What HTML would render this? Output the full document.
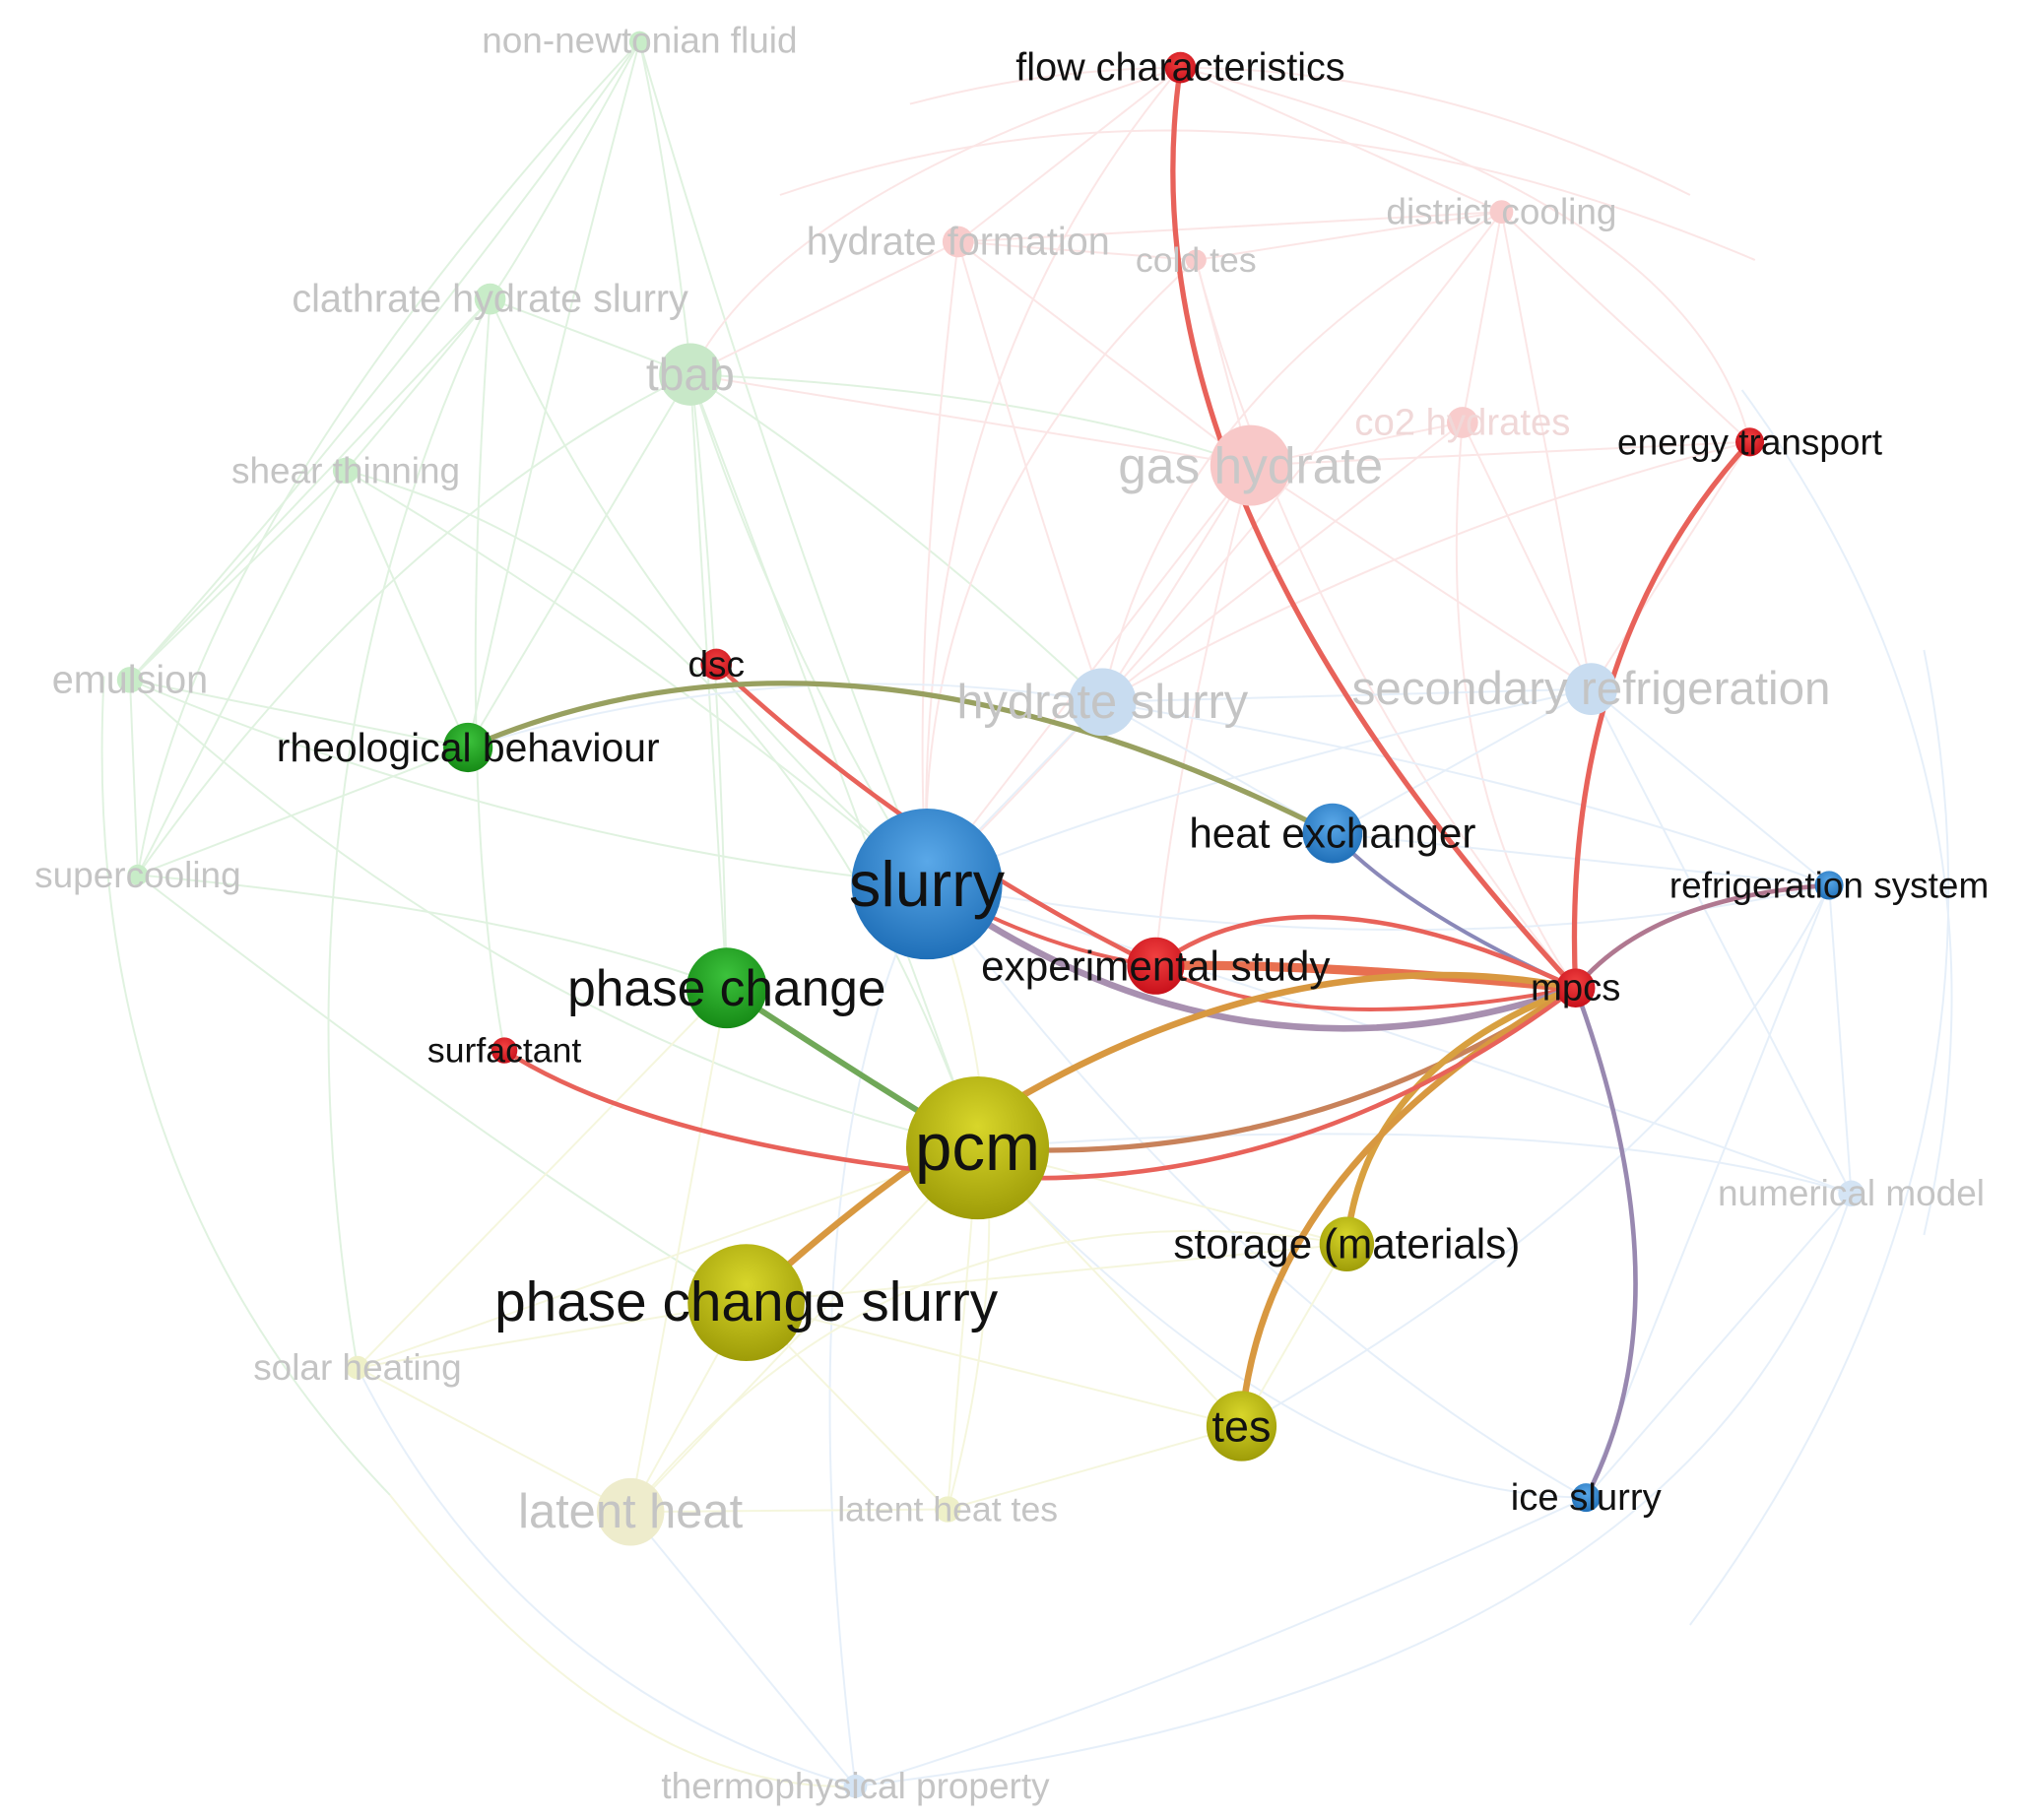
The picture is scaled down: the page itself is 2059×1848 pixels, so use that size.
<!DOCTYPE html>
<html><head><meta charset="utf-8"><style>
html,body{margin:0;padding:0;background:#fff;}
svg{display:block;}
text{font-family:"Liberation Sans","DejaVu Sans",sans-serif;text-anchor:middle;dominant-baseline:central;}
</style></head><body>
<svg width="2059" height="1848" viewBox="0 0 1560 1400" preserveAspectRatio="none" xmlns="http://www.w3.org/2000/svg">
<defs>
<radialGradient id="gb" cx="50%" cy="35%" r="65%"><stop offset="0" stop-color="#5aa8e8"/><stop offset="1" stop-color="#1f6fb8"/></radialGradient>
<radialGradient id="gy" cx="50%" cy="35%" r="65%"><stop offset="0" stop-color="#d8d62a"/><stop offset="1" stop-color="#9e9c08"/></radialGradient>
<radialGradient id="gg" cx="50%" cy="35%" r="65%"><stop offset="0" stop-color="#3cc23c"/><stop offset="1" stop-color="#168a16"/></radialGradient>
<radialGradient id="gr" cx="50%" cy="35%" r="65%"><stop offset="0" stop-color="#f04040"/><stop offset="1" stop-color="#c8101a"/></radialGradient>
</defs>
<rect width="1560" height="1400" fill="#fff"/>
<g fill="none" stroke-width="1.5" opacity="0.35">
<g stroke="#a8dca8">
<path d="M492 32 Q400 200 377 230"/><path d="M492 32 Q300 300 100 523"/><path d="M492 32 Q420 300 360 575"/><path d="M492 32 Q600 400 713 680"/><path d="M492 32 Q550 300 559 760"/><path d="M492 32 Q150 400 106 673"/>
<path d="M377 230 L266 362"/><path d="M377 230 L100 523"/><path d="M377 230 Q500 500 713 680"/><path d="M377 230 Q350 600 388 808"/><path d="M377 230 L531 288"/><path d="M377 230 Q200 600 275 1052"/>
<path d="M266 362 L100 523"/><path d="M266 362 L360 575"/><path d="M266 362 Q500 500 713 680"/><path d="M266 362 L106 673"/><path d="M266 362 Q600 450 752 883"/>
<path d="M100 523 L360 575"/><path d="M100 523 Q400 650 713 680"/><path d="M100 523 L106 673"/><path d="M100 523 Q400 800 752 883"/>
<path d="M106 673 L360 575"/><path d="M106 673 Q400 700 559 760"/><path d="M106 673 Q400 900 574 1002"/><path d="M106 673 Q300 400 531 288"/>
<path d="M531 288 Q600 500 713 680"/><path d="M531 288 L559 760"/><path d="M531 288 Q700 400 848 540"/><path d="M531 288 Q800 300 962 358"/><path d="M531 288 L360 575"/><path d="M531 288 Q650 600 752 883"/>
<path d="M80 520 Q60 900 300 1150"/>
</g>
<g stroke="#f4b8b8">
<path d="M737 186 L962 358"/><path d="M737 186 Q800 400 848 540"/><path d="M737 186 L531 288"/><path d="M737 186 Q700 500 713 680"/><path d="M737 186 L1155 163"/><path d="M737 186 L920 200"/>
<path d="M920 200 L962 358"/><path d="M920 200 L1155 163"/><path d="M920 200 Q1000 500 1212 760"/><path d="M920 200 Q700 400 713 680"/>
<path d="M1155 163 L1125 325"/><path d="M1155 163 Q1200 400 1224 530"/><path d="M1155 163 L1346 340"/><path d="M1155 163 Q900 300 848 540"/><path d="M1155 163 Q900 500 713 680"/>
<path d="M1125 325 L962 358"/><path d="M1125 325 L848 540"/><path d="M1125 325 L1224 530"/><path d="M1125 325 Q1100 600 1212 760"/>
<path d="M962 358 L848 540"/><path d="M962 358 L713 680"/><path d="M962 358 L1224 530"/><path d="M962 358 L531 288"/><path d="M962 358 L1346 340"/><path d="M962 358 Q900 600 889 743"/>
<path d="M908 52 Q700 300 713 680"/><path d="M908 52 L737 186"/><path d="M908 52 L1155 163"/><path d="M908 52 Q1300 150 1346 340"/><path d="M908 52 Q600 150 531 288"/>
<path d="M1346 340 L1224 530"/><path d="M1346 340 Q1100 400 848 540"/>
<path d="M700 80 Q1000 0 1300 150"/><path d="M600 150 Q950 30 1350 200"/>
</g>
<g stroke="#b8d4f0">
<path d="M848 540 L1224 530"/><path d="M848 540 L713 680"/><path d="M848 540 L1025 641"/><path d="M848 540 Q1200 600 1407 681"/><path d="M848 540 Q600 500 360 575"/>
<path d="M1224 530 L1407 681"/><path d="M1224 530 L1025 641"/><path d="M1224 530 Q900 600 713 680"/><path d="M1224 530 L1424 918"/>
<path d="M1407 681 L1424 918"/><path d="M1407 681 L1220 1152"/><path d="M1407 681 Q1300 900 955 1097"/><path d="M1407 681 L1025 641"/><path d="M1407 681 Q1100 750 713 680"/>
<path d="M1424 918 L1220 1152"/><path d="M1424 918 Q1100 800 713 680"/><path d="M1424 918 Q1200 850 752 883"/>
<path d="M658 1374 L485 1163"/><path d="M658 1374 Q600 900 713 680"/><path d="M658 1374 Q900 1300 1220 1152"/><path d="M658 1374 Q400 1300 275 1052"/><path d="M658 1374 Q1300 1300 1424 918"/>
<path d="M1220 1152 Q950 1000 713 680"/><path d="M1220 1152 Q1000 1150 752 883"/>
<path d="M1480 500 Q1560 900 1300 1250"/><path d="M1340 300 Q1560 600 1480 950"/>
</g>
<g stroke="#e4e8a0">
<path d="M485 1163 L574 1002"/><path d="M485 1163 L752 883"/><path d="M485 1163 L729 1161"/><path d="M485 1163 L275 1052"/><path d="M485 1163 L559 760"/><path d="M485 1163 Q700 900 1036 957"/>
<path d="M729 1161 L752 883"/><path d="M729 1161 L574 1002"/><path d="M729 1161 L955 1097"/><path d="M729 1161 Q800 900 713 680"/>
<path d="M275 1052 L574 1002"/><path d="M275 1052 L752 883"/><path d="M275 1052 L559 760"/>
<path d="M955 1097 L752 883"/><path d="M955 1097 L1036 957"/><path d="M955 1097 L574 1002"/><path d="M1036 957 L752 883"/><path d="M1036 957 L574 1002"/>
<path d="M300 1150 Q480 1380 658 1374"/>
</g>
</g>
<g fill="none" stroke-linecap="round">
<path d="M1212 760 Q860 380 908 52" stroke="#e8625a" stroke-width="4"/>
<path d="M1212 760 Q1200 500 1346 340" stroke="#e8625a" stroke-width="4"/>
<path d="M1212 760 Q1270 690 1407 681" stroke="#b07890" stroke-width="3.5"/>
<path d="M1212 760 Q1300 1000 1220 1152" stroke="#9888b0" stroke-width="3.5"/>
<path d="M1212 760 Q1080 700 1025 641" stroke="#8a88b8" stroke-width="3"/>
<path d="M1212 760 Q1000 660 889 743" stroke="#e8625a" stroke-width="3.5"/>
<path d="M1212 760 Q1000 740 889 743" stroke="#e87050" stroke-width="7"/>
<path d="M1212 760 Q1000 800 889 743" stroke="#e8625a" stroke-width="3"/>
<path d="M1212 760 Q950 850 713 680" stroke="#a890b0" stroke-width="5"/>
<path d="M1212 760 Q1000 900 752 883" stroke="#c8825a" stroke-width="4"/>
<path d="M1212 760 Q900 700 574 1002" stroke="#d89840" stroke-width="5"/>
<path d="M1212 760 Q1050 820 1036 957" stroke="#d8a040" stroke-width="5"/>
<path d="M1212 760 Q970 900 955 1097" stroke="#d89840" stroke-width="5"/>
<path d="M1212 760 Q1000 920 752 905 Q500 880 388 808" stroke="#e8625a" stroke-width="3.5"/>
<path d="M551 511 Q700 650 889 743" stroke="#e8625a" stroke-width="3.5"/>
<path d="M360 575 Q650 450 1025 641" stroke="#98a060" stroke-width="4"/>
<path d="M559 760 Q650 820 752 883" stroke="#70a858" stroke-width="4.5"/>
<path d="M713 680 Q800 730 889 743" stroke="#e8625a" stroke-width="3"/>
</g>
<g>
<circle cx="492" cy="32" r="8" fill="#c8ecc8"/>
<circle cx="377" cy="230" r="12" fill="#c8ecc8"/>
<circle cx="531" cy="288" r="24" fill="#c8e8c8"/>
<circle cx="266" cy="362" r="10" fill="#c8ecc8"/>
<circle cx="100" cy="523" r="10" fill="#c8ecc8"/>
<circle cx="106" cy="673" r="8" fill="#c8ecc8"/>
<circle cx="737" cy="186" r="12" fill="#f8cccc"/>
<circle cx="920" cy="200" r="8" fill="#f8cccc"/>
<circle cx="1155" cy="163" r="9" fill="#f8cccc"/>
<circle cx="1125" cy="325" r="12" fill="#f8cccc"/>
<circle cx="962" cy="358" r="31" fill="#f8c8c8"/>
<circle cx="848" cy="540" r="26" fill="#c8dcf0"/>
<circle cx="1224" cy="530" r="20" fill="#c8dcf0"/>
<circle cx="1424" cy="918" r="10" fill="#d4e4f4"/>
<circle cx="658" cy="1374" r="9" fill="#d4e4f4"/>
<circle cx="275" cy="1052" r="9" fill="#eef0c8"/>
<circle cx="485" cy="1163" r="26" fill="#eeeccc"/>
<circle cx="729" cy="1161" r="10" fill="#eef0c8"/>
</g>
<g>
<circle cx="908" cy="52" r="12" fill="url(#gr)"/>
<circle cx="1346" cy="340" r="11" fill="url(#gr)"/>
<circle cx="551" cy="511" r="12" fill="url(#gr)"/>
<circle cx="360" cy="575" r="19" fill="url(#gg)"/>
<circle cx="1025" cy="641" r="23" fill="url(#gb)"/>
<circle cx="713" cy="680" r="58" fill="url(#gb)"/>
<circle cx="1407" cy="681" r="11" fill="url(#gb)"/>
<circle cx="889" cy="743" r="22" fill="url(#gr)"/>
<circle cx="1212" cy="760" r="15" fill="url(#gr)"/>
<circle cx="559" cy="760" r="31" fill="url(#gg)"/>
<circle cx="388" cy="808" r="10" fill="url(#gr)"/>
<circle cx="752" cy="883" r="55" fill="url(#gy)"/>
<circle cx="1036" cy="957" r="21" fill="url(#gy)"/>
<circle cx="574" cy="1002" r="45" fill="url(#gy)"/>
<circle cx="955" cy="1097" r="27" fill="url(#gy)"/>
<circle cx="1220" cy="1152" r="11" fill="url(#gb)"/>
</g>
<g fill="#c4c4c4">
<text x="492" y="31" font-size="28">non-newtonian fluid</text>
<text x="377" y="230" font-size="30">clathrate hydrate slurry</text>
<text x="531" y="288" font-size="35">tbab</text>
<text x="266" y="362" font-size="28">shear thinning</text>
<text x="100" y="523" font-size="30">emulsion</text>
<text x="106" y="673" font-size="28">supercooling</text>
<text x="737" y="186" font-size="30">hydrate formation</text>
<text x="920" y="200" font-size="27">cold tes</text>
<text x="1155" y="163" font-size="28">district cooling</text>
<text x="1125" y="325" font-size="29" fill="#f0d8d8">co2 hydrates</text>
<text x="962" y="358" font-size="39" fill="#c8c8c8">gas hydrate</text>
<text x="848" y="540" font-size="37">hydrate slurry</text>
<text x="1224" y="530" font-size="36">secondary refrigeration</text>
<text x="1424" y="918" font-size="28">numerical model</text>
<text x="275" y="1052" font-size="28">solar heating</text>
<text x="485" y="1163" font-size="37">latent heat</text>
<text x="729" y="1161" font-size="27">latent heat tes</text>
<text x="658" y="1374" font-size="28">thermophysical property</text>
</g>
<g fill="#111">
<text x="908" y="52" font-size="30">flow characteristics</text>
<text x="1346" y="340" font-size="28">energy transport</text>
<text x="551" y="511" font-size="28">dsc</text>
<text x="360" y="575" font-size="31">rheological behaviour</text>
<text x="1025" y="641" font-size="32">heat exchanger</text>
<text x="713" y="680" font-size="49">slurry</text>
<text x="1407" y="681" font-size="28">refrigeration system</text>
<text x="889" y="743" font-size="32">experimental study</text>
<text x="1212" y="760" font-size="29">mpcs</text>
<text x="559" y="760" font-size="39">phase change</text>
<text x="388" y="808" font-size="27">surfactant</text>
<text x="752" y="883" font-size="51">pcm</text>
<text x="1036" y="957" font-size="32">storage (materials)</text>
<text x="574" y="1002" font-size="43">phase change slurry</text>
<text x="955" y="1097" font-size="34">tes</text>
<text x="1220" y="1152" font-size="29">ice slurry</text>
</g>
</svg>
</body></html>
